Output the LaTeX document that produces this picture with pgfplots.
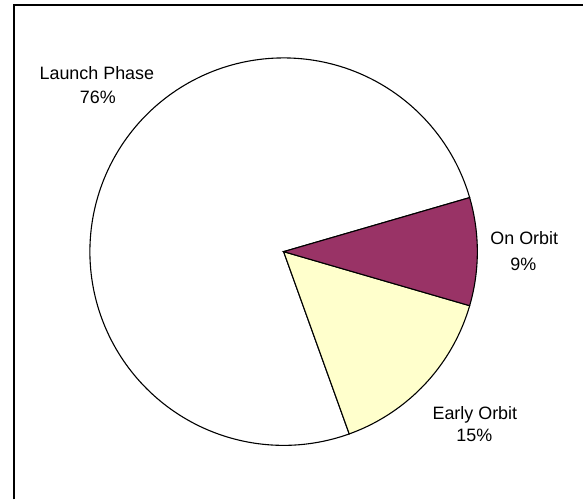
\documentclass[border=0pt]{standalone}
\usepackage{pgfplots}
\pgfplotsset{compat=1.18}
\usepackage{pgfplotstable}
\usepackage{fontspec}
\setmainfont{Liberation Sans}
\definecolor{onorbit}{HTML}{993366}
\definecolor{earlyorbit}{HTML}{FFFFCC}
\pgfplotstableread{
phase value
Launch 76
Early 15
OnOrbit 9
}\piedata
\pgfplotstablegetelem{0}{value}\of\piedata \let\vA\pgfplotsretval
\pgfplotstablegetelem{1}{value}\of\piedata \let\vB\pgfplotsretval
\pgfplotstablegetelem{2}{value}\of\piedata \let\vC\pgfplotsretval
\pgfmathsetmacro{\aA}{1.8*\vC}
\pgfmathsetmacro{\aB}{\aA+3.6*\vA}
\pgfmathsetmacro{\aC}{\aB+3.6*\vB}
\pgfmathsetmacro{\aD}{\aC+3.6*\vC}
\begin{document}
\begin{tikzpicture}
\begin{axis}[
  width=584bp, height=500bp, scale only axis,
  xmin=0, xmax=584, ymin=0, ymax=500,
  hide axis, clip=false,
]
\path (axis cs:0,0) rectangle (axis cs:584,500);
\draw[line width=1.6bp] (axis cs:14,0) -- (axis cs:14,495) -- (axis cs:584,495);
\addplot[fill=white, draw=black, line width=1.1bp, domain=\aA:\aB, samples=200, variable=\t]
  ({284+194*cos(t)},{248+194*sin(t)}) -- (axis cs:284,248) -- cycle;
\addplot[fill=earlyorbit, draw=black, line width=1.1bp, domain=\aB:\aC, samples=60, variable=\t]
  ({284+194*cos(t)},{248+194*sin(t)}) -- (axis cs:284,248) -- cycle;
\addplot[fill=onorbit, draw=black, line width=1.1bp, domain=\aC:\aD, samples=40, variable=\t]
  ({284+194*cos(t)},{248+194*sin(t)}) -- (axis cs:284,248) -- cycle;
\begin{scope}[every node/.style={font=\fontsize{18}{22}\selectfont, anchor=base, inner sep=0pt}]
\node at (axis cs:97,420) {Launch Phase};
\node at (axis cs:98,396.5) {76\%};
\node at (axis cs:525,255.5) {On Orbit};
\node at (axis cs:524,229.5) {9\%};
\node at (axis cs:475.5,80) {Early Orbit};
\node at (axis cs:475,58) {15\%};
\end{scope}
\end{axis}
\end{tikzpicture}
\end{document}
